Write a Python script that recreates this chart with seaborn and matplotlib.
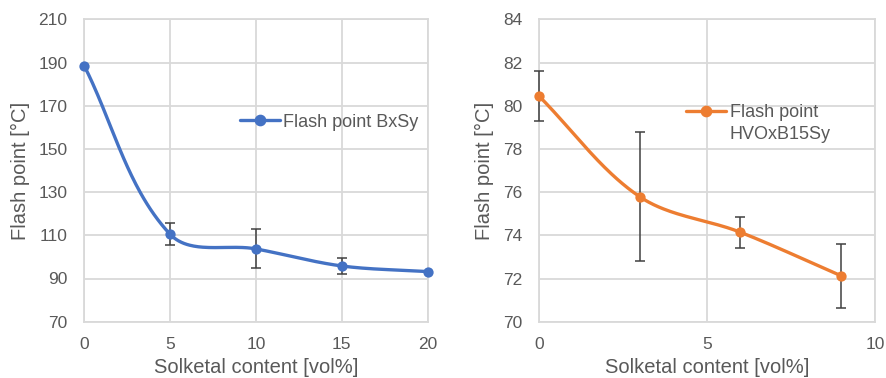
import numpy as np
import pandas as pd
import matplotlib
matplotlib.use("Agg")
import matplotlib.pyplot as plt
from matplotlib.lines import Line2D
import seaborn as sns

# Flash point vs. solketal content, BxSy blends
bx_content = [0, 5, 10, 15, 20]
bx_flash = [188.5, 110.5, 103.7, 95.8, 93.2]
bx_err = [0.0, 5.0, 9.0, 3.8, 0.0]

# Flash point vs. solketal content, HVOxB15Sy blends
hvo_content = [0, 3, 6, 9]
hvo_flash = [80.46, 75.79, 74.14, 72.12]
hvo_err = [1.16, 3.0, 0.73, 1.5]

left_yticks = [70, 90, 110, 130, 150, 170, 190, 210]
left_xticks = [0, 5, 10, 15, 20]
right_yticks = [70, 72, 74, 76, 78, 80, 82, 84]
right_xticks = [0, 5, 10]

BLUE = "#4472C4"
ORANGE = "#ED7D31"
TEXT = "#595959"
GRID = "#D9D9D9"
ERR = "#404040"

sns.set_theme(style="whitegrid")
plt.rcParams["font.family"] = ["Liberation Sans", "DejaVu Sans"]
plt.rcParams["text.color"] = TEXT
plt.rcParams["axes.labelcolor"] = TEXT
plt.rcParams["xtick.color"] = TEXT
plt.rcParams["ytick.color"] = TEXT


def smooth_curve(x, y, xlim, ylim, w_px, h_px, n=60):
    """Bezier smoothing in screen space, similar to a spreadsheet 'smoothed line'."""
    px = (np.asarray(x, float) - xlim[0]) / (xlim[1] - xlim[0]) * w_px
    py = (np.asarray(y, float) - ylim[0]) / (ylim[1] - ylim[0]) * h_px
    pts = np.column_stack([px, py])
    m = len(pts)
    tang = np.zeros_like(pts)
    for i in range(m):
        a = pts[max(i - 1, 0)]
        b = pts[min(i + 1, m - 1)]
        d = b - a
        tang[i] = d / np.linalg.norm(d)
    out = []
    for i in range(m - 1):
        p0, p3 = pts[i], pts[i + 1]
        L = np.linalg.norm(p3 - p0)
        b1 = p0 + tang[i] * L / 3.0
        b2 = p3 - tang[i + 1] * L / 3.0
        t = np.linspace(0, 1, n)[:, None]
        seg = ((1 - t) ** 3) * p0 + 3 * ((1 - t) ** 2) * t * b1 + 3 * (1 - t) * t ** 2 * b2 + t ** 3 * p3
        out.append(seg if i == 0 else seg[1:])
    out = np.vstack(out)
    sx = out[:, 0] / w_px * (xlim[1] - xlim[0]) + xlim[0]
    sy = out[:, 1] / h_px * (ylim[1] - ylim[0]) + ylim[0]
    return sx, sy


fig = plt.figure(figsize=(8.86, 3.78), dpi=100)
ax_h = 302.4
ax1 = fig.add_axes([84.2 / 886, 1 - 321.7 / 378, 343.5 / 886, ax_h / 378])
ax2 = fig.add_axes([538.7 / 886, 1 - 321.7 / 378, 336.3 / 886, ax_h / 378])


def draw_panel(ax, x, y, err, color, xticks, yticks, labels, legend_anchor, w_px):
    xlim = (xticks[0], xticks[-1])
    ylim = (yticks[0], yticks[-1])
    sx, sy = smooth_curve(x, y, xlim, ylim, w_px, ax_h)
    df = pd.DataFrame({"x": sx, "y": sy})
    sns.lineplot(data=df, x="x", y="y", ax=ax, color=color, lw=2.4,
                 sort=False, estimator=None, zorder=4)
    e = np.asarray(err)
    mask = e > 0
    eb = ax.errorbar(np.asarray(x)[mask], np.asarray(y)[mask], yerr=e[mask], fmt="none",
                     ecolor=ERR, elinewidth=1.1, capsize=3.6, capthick=1.1, zorder=3)
    for art in list(eb.lines[1]) + list(eb.lines[2]):
        art.set_clip_on(False)
    pts = pd.DataFrame({"x": x, "y": y})
    sns.scatterplot(data=pts, x="x", y="y", ax=ax, color=color, s=55,
                    edgecolor=color, linewidth=0, zorder=5, clip_on=False)
    ax.set_xlim(*xlim)
    ax.set_ylim(*ylim)
    ax.set_xticks(xticks)
    ax.set_yticks(yticks)
    ax.tick_params(axis="both", length=0, labelsize=12.5, colors=TEXT)
    ax.tick_params(axis="y", pad=12)
    ax.tick_params(axis="x", pad=11)
    ax.grid(True, color=GRID, lw=1.3)
    for sp in ax.spines.values():
        sp.set_color(GRID)
        sp.set_linewidth(1.3)
        sp.set_zorder(1)
    ax.set_xlabel("Solketal content [vol%]", fontsize=14.5, color=TEXT, labelpad=4)
    ax.set_ylabel("Flash point [°C]", fontsize=14.5, color=TEXT, labelpad=6)
    handles = [Line2D([], [], color=color, lw=2.4, marker="o", markersize=7.4)]
    handles += [Line2D([], [], alpha=0) for _ in labels[1:]]
    ax.legend(handles, labels, loc="center left", bbox_to_anchor=legend_anchor,
              frameon=False, fontsize=13, handlelength=2.2, handletextpad=0.22,
              borderpad=0, borderaxespad=0, labelspacing=0.25, labelcolor=TEXT)


draw_panel(ax1, bx_content, bx_flash, bx_err, BLUE, left_xticks, left_yticks,
           ["Flash point BxSy"], (0.453, 0.66), 343.5)
draw_panel(ax2, hvo_content, hvo_flash, hvo_err, ORANGE, right_xticks, right_yticks,
           ["Flash point", "HVOxB15Sy"], (0.438, 0.655), 336.3)

fig.savefig("out.png", dpi=100)
